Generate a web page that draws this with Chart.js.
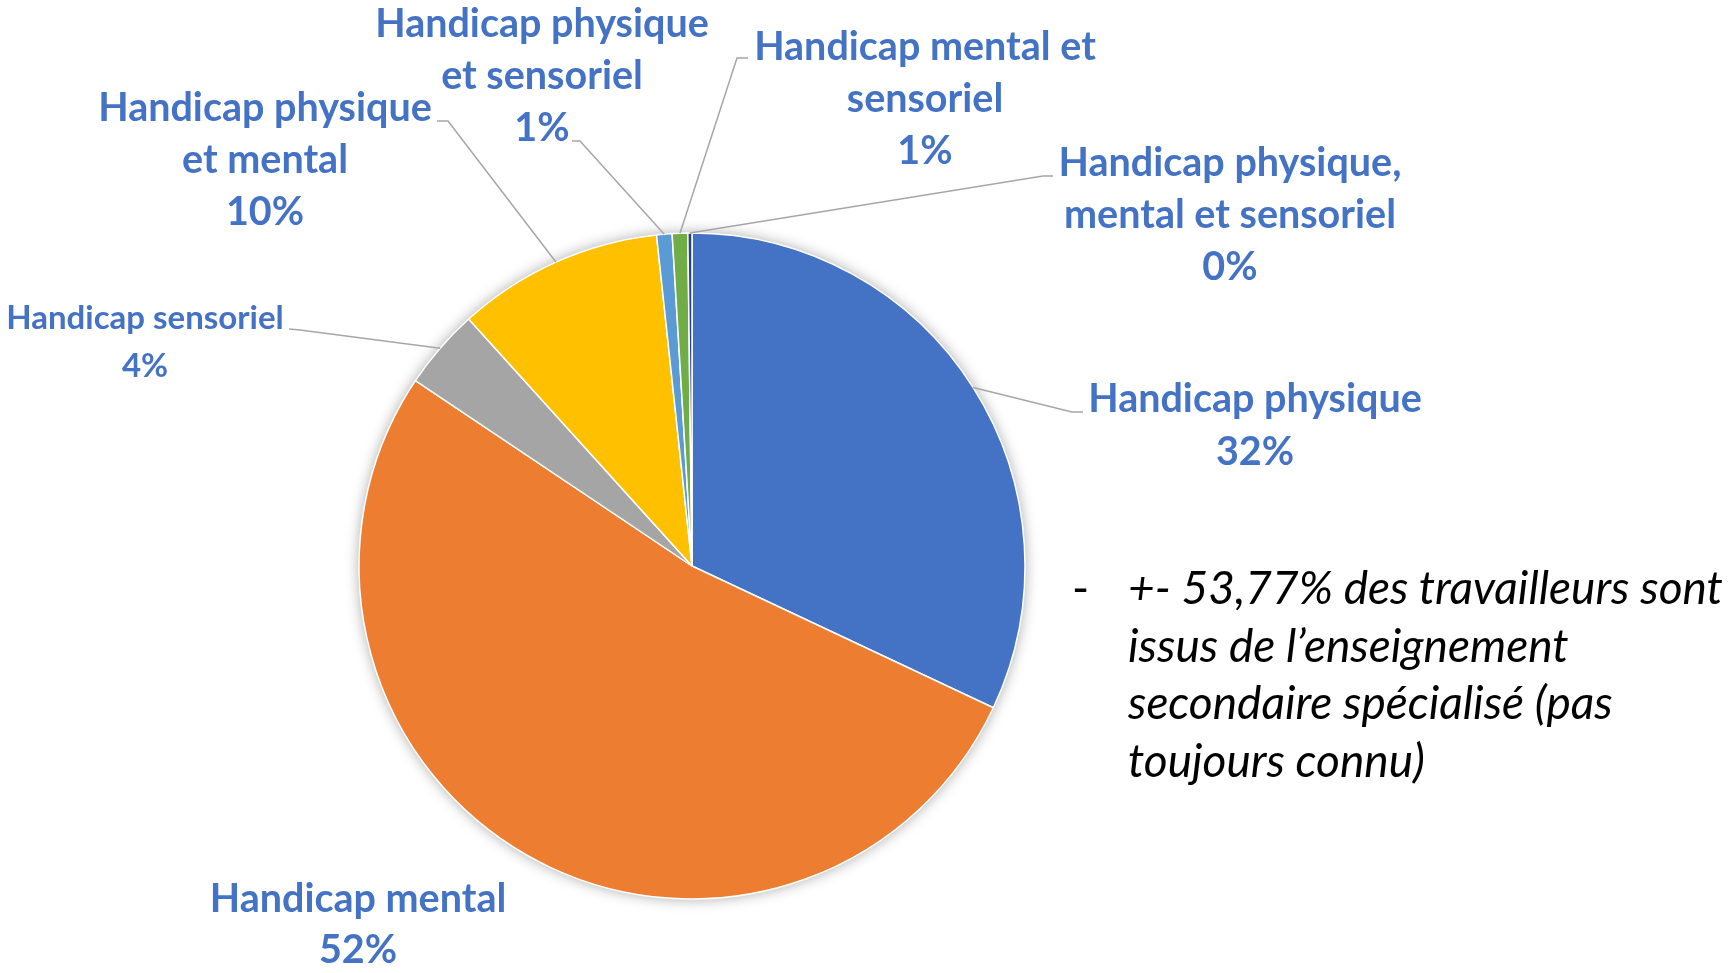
<!DOCTYPE html>
<html lang="fr">
<head>
<meta charset="utf-8">
<title>Types de handicap</title>
<script src="https://cdn.jsdelivr.net/npm/chart.js@4.4.1/dist/chart.umd.min.js"></script>
<style>
  html, body { margin: 0; padding: 0; background: #fff; }
  #wrap { position: relative; width: 1728px; height: 973px; overflow: hidden; }
  #pie { position: absolute; left: 0; top: 0; }
  #note {
    position: absolute; left: 1128px; top: 558px; width: 600px;
    font-family: Lato, "Open Sans", sans-serif; font-style: italic;
    font-size: 46px; line-height: 57.7px; color: #000; white-space: nowrap;
  }
  #note .dash { position: absolute; left: -56px; top: 0; font-style: normal; }
</style>
</head>
<body>
<div id="wrap">
  <canvas id="pie" width="1728" height="973"></canvas>
  <div id="note"><span class="dash">-</span>+- 53,77% des travailleurs sont<br>issus de l’enseignement<br>secondaire spécialisé (pas<br>toujours connu)</div>
</div>
<script>
// Chart data
const categories = [
    'Handicap physique',
    'Handicap mental',
    'Handicap sensoriel',
    'Handicap physique et mental',
    'Handicap physique et sensoriel',
    'Handicap mental et sensoriel',
    'Handicap physique, mental et sensoriel'
];
const shares = [32.0, 52.4, 3.9, 10.0, 0.75, 0.75, 0.2];
const sliceColors = ['#4472C4', '#ED7D31', '#A5A5A5', '#FFC000', '#5B9BD5', '#70AD47', '#264478'];

// label text lines (as wrapped on the original slide)
const labelLines = [
    ['Handicap physique'],
    ['Handicap mental'],
    ['Handicap sensoriel'],
    ['Handicap physique', 'et mental'],
    ['Handicap physique', 'et sensoriel'],
    ['Handicap mental et', 'sensoriel'],
    ['Handicap physique,', 'mental et sensoriel']
];

// where each label sits, relative to the pie centre (px at radius 333)
// tx/ty: text centre x / first line y, elbow + tail: leader line bend and end
const labelLayout = [
    { tx: 563, ty: -167, size: 39.5, lh: 53, elbow: [380, -154], tail: [391, -154] },
    { tx: -334, ty: 333, size: 39.5, lh: 51, elbow: null, tail: null },
    { tx: -547, ty: -248, size: 33, lh: 48, elbow: [-392, -236], tail: [-403, -237] },
    { tx: -427, ty: -458, size: 39.5, lh: 52, elbow: [-244, -445], tail: [-255, -445] },
    { tx: -150, ty: -542, size: 39.5, lh: 52, elbow: [-112, -425], tail: [-120, -425] },
    { tx: 233, ty: -519, size: 39.5, lh: 52, elbow: [45, -508], tail: [56, -508] },
    { tx: 538, ty: -403, size: 39.5, lh: 52, elbow: [351, -390], tail: [361, -390] }
];

const pieShadow = {
    id: 'pieShadow',
    beforeDatasetsDraw(chart) {
        const arc = chart.getDatasetMeta(0).data[0];
        if (!arc) return;
        const ctx = chart.ctx;
        ctx.save();
        ctx.shadowColor = 'rgba(0,0,0,0.35)';
        ctx.shadowBlur = 14;
        ctx.fillStyle = '#fff';
        ctx.beginPath();
        ctx.arc(arc.x, arc.y, arc.outerRadius, 0, Math.PI * 2);
        ctx.fill();
        ctx.restore();
    }
};

const sliceLabels = {
    id: 'sliceLabels',
    afterDatasetsDraw(chart) {
        const ctx = chart.ctx;
        const arcs = chart.getDatasetMeta(0).data;
        const total = shares.reduce((a, b) => a + b, 0);
        arcs.forEach((arc, i) => {
            const lay = labelLayout[i];
            const k = arc.outerRadius / 333;
            const mid = (arc.startAngle + arc.endAngle) / 2;

            if (lay.elbow) {
                ctx.save();
                ctx.strokeStyle = '#A6A6A6';
                ctx.lineWidth = 1.5;
                ctx.beginPath();
                ctx.moveTo(arc.x + Math.cos(mid) * arc.outerRadius, arc.y + Math.sin(mid) * arc.outerRadius);
                ctx.lineTo(arc.x + lay.elbow[0] * k, arc.y + lay.elbow[1] * k);
                ctx.lineTo(arc.x + lay.tail[0] * k, arc.y + lay.tail[1] * k);
                ctx.stroke();
                ctx.restore();
            }

            const lines = labelLines[i].concat([Math.round(shares[i] / total * 100) + '%']);
            ctx.save();
            ctx.fillStyle = '#4472C4';
            ctx.font = 'bold ' + lay.size + 'px Lato, "Open Sans", sans-serif';
            ctx.textAlign = 'center';
            ctx.textBaseline = 'middle';
            lines.forEach((t, j) => {
                ctx.fillText(t, arc.x + lay.tx * k, arc.y + (lay.ty + j * lay.lh) * k);
            });
            ctx.restore();
        });
    }
};

new Chart(document.getElementById('pie'), {
    type: 'pie',
    data: {
        labels: categories,
        datasets: [{
            data: shares,
            backgroundColor: sliceColors,
            borderColor: '#ffffff',
            borderWidth: 1.5
        }]
    },
    options: {
        responsive: false,
        animation: false,
        layout: { padding: { left: 358.25, right: 702.25, top: 232.25, bottom: 73.25 } },
        plugins: {
            legend: { display: false },
            tooltip: { enabled: false }
        }
    },
    plugins: [pieShadow, sliceLabels]
});
</script>
</body>
</html>
